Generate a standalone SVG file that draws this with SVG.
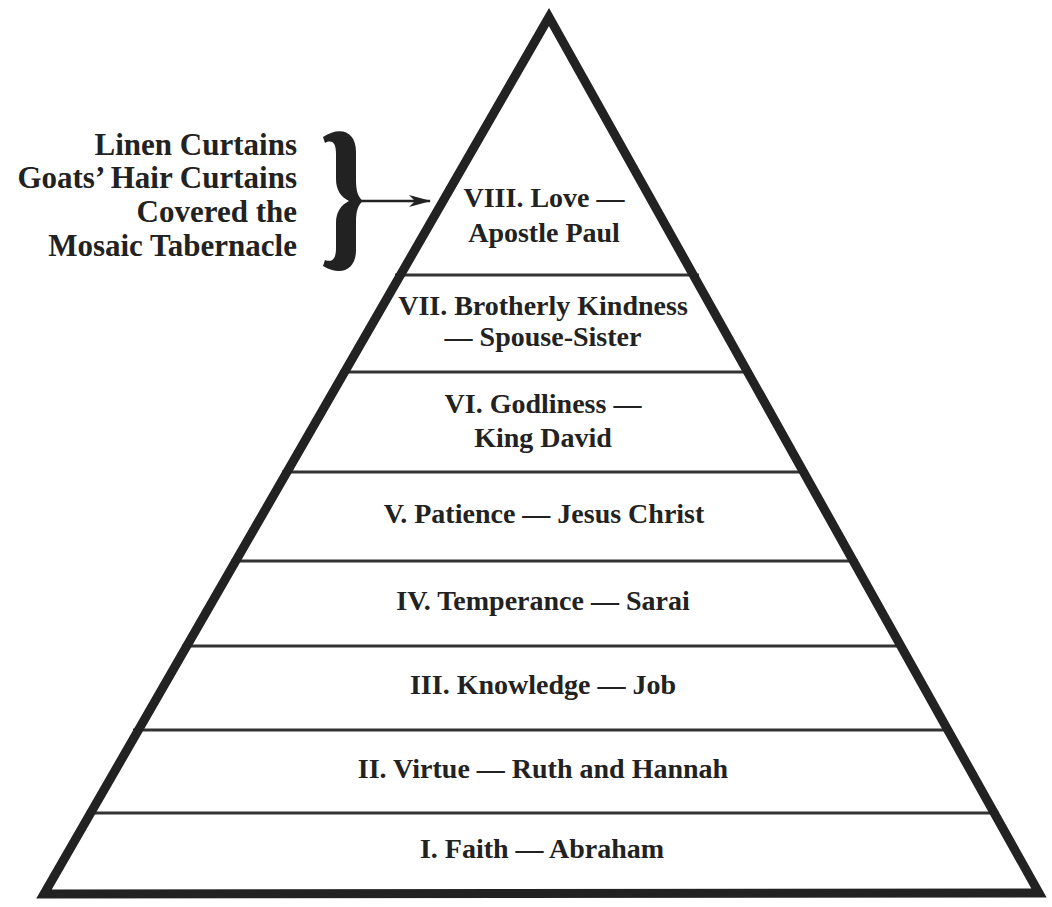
<svg xmlns="http://www.w3.org/2000/svg" width="1052" height="907" viewBox="0 0 1052 907">
<style>
.t{font-family:"Liberation Serif","Times New Roman",serif;font-weight:bold;font-size:28px;fill:#222;text-anchor:middle}
.l{font-family:"Liberation Serif","Times New Roman",serif;font-weight:bold;font-size:31px;fill:#222;text-anchor:end}
.div{stroke:#333;stroke-width:3;fill:none}
</style>
<defs>
<marker id="ah" markerWidth="22" markerHeight="12" refX="21" refY="6" orient="auto" markerUnits="userSpaceOnUse">
<path d="M0,0 L22,6 L0,12 L6,6 Z" fill="#222"/>
</marker>
</defs>
<rect width="1052" height="907" fill="#fff"/>
<g id="dividers">
<line class="div" x1="395" y1="275" x2="699" y2="275"/>
<line class="div" x1="340" y1="372" x2="752" y2="372"/>
<line class="div" x1="282" y1="472" x2="808" y2="472"/>
<line class="div" x1="231" y1="561" x2="858" y2="561"/>
<line class="div" x1="182" y1="646" x2="905" y2="646"/>
<line class="div" x1="133" y1="730" x2="952" y2="730"/>
<line class="div" x1="86" y1="813" x2="999" y2="813"/>
</g>
<g id="pyramid">
<polygon points="549,17 44,894 1039,893" fill="none" stroke="#222" stroke-width="9" stroke-linejoin="miter"/>
</g>
<g id="level8"><text class="t" x="544" y="207">VIII. Love —</text><text class="t" x="544" y="242">Apostle Paul</text></g>
<g id="level7"><text class="t" x="543" y="315">VII. Brotherly Kindness</text><text class="t" x="543" y="346">— Spouse-Sister</text></g>
<g id="level6"><text class="t" x="543" y="413">VI. Godliness —</text><text class="t" x="543" y="447">King David</text></g>
<g id="level5"><text class="t" x="544" y="523">V. Patience — Jesus Christ</text></g>
<g id="level4"><text class="t" x="543" y="610">IV. Temperance — Sarai</text></g>
<g id="level3"><text class="t" x="543" y="694">III. Knowledge — Job</text></g>
<g id="level2"><text class="t" x="543" y="778">II. Virtue — Ruth and Hannah</text></g>
<g id="level1"><text class="t" x="542" y="858">I. Faith — Abraham</text></g>
<g id="note">
<text class="l" x="297" y="155">Linen Curtains</text>
<text class="l" x="297" y="188">Goats’ Hair Curtains</text>
<text class="l" x="297" y="222">Covered the</text>
<text class="l" x="297" y="256">Mosaic Tabernacle</text>
<path d="M323,137 C340,126 356,131 356,152 L356,180 C356,191 358,197 363,201 C358,205 356,211 356,222 L356,250 C356,271 340,276 323,266 L325,260 C333,263 336,258 336,248 L336,223 C336,212 341,205 349,201 C341,197 336,190 336,179 L336,154 C336,144 333,139 325,143 Z" fill="#222"/>
</g>
<g id="connectors">
<line x1="360" y1="201" x2="430" y2="201" stroke="#222" stroke-width="2.5" marker-end="url(#ah)"/>
</g>
</svg>
